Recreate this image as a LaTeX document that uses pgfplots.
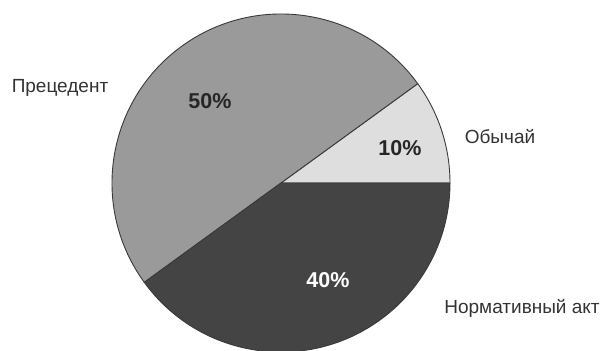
\documentclass[border=0pt]{standalone}
\usepackage{pgfplots}
\pgfplotsset{compat=1.18}
\usepackage{pgfplotstable}
\usepackage{fontspec}
\setmainfont{Liberation Sans}
\definecolor{light}{HTML}{DEDEDE}
\definecolor{mid}{HTML}{9A9A9A}
\definecolor{dark}{HTML}{444444}
\definecolor{edge}{HTML}{3A3A3A}
\definecolor{txt}{HTML}{333333}
\pgfplotstableread{
label value start end
Obychaj 10 0 36
Precedent 50 36 216
Normativ 40 216 360
}\piedata
\begin{document}
\begin{tikzpicture}
\begin{axis}[
  anchor=south west, at={(0,0)},
  scale only axis, width=601pt, height=350pt,
  xmin=0, xmax=601, ymin=0, ymax=350,
  hide axis, clip=true,
]
% pie centre (281,167), radius 169 (1 unit = 1pt)
\fill[light, draw=edge, line width=0.9pt] (axis cs:281,167) -- ++(0:169pt) arc[start angle=0, end angle=36, radius=169pt] -- cycle;
\fill[mid, draw=edge, line width=0.9pt] (axis cs:281,167) -- ++(36:169pt) arc[start angle=36, end angle=216, radius=169pt] -- cycle;
\fill[dark, draw=edge, line width=0.9pt] (axis cs:281,167) -- ++(216:169pt) arc[start angle=216, end angle=360, radius=169pt] -- cycle;
\node[font=\bfseries\fontsize{21.5}{24}\selectfont, text=black!85] at (axis cs:210,249) {50\%};
\node[font=\bfseries\fontsize{21.5}{24}\selectfont, text=black!85] at (axis cs:400,202) {10\%};
\node[font=\bfseries\fontsize{21.5}{24}\selectfont, text=white] at (axis cs:328,70) {40\%};
\node[font=\fontsize{19}{22}\selectfont, text=txt] at (axis cs:60,262) {Прецедент};
\node[font=\fontsize{19}{22}\selectfont, text=txt] at (axis cs:500,213) {Обычай};
\node[font=\fontsize{19}{22}\selectfont, text=txt] at (axis cs:522,42) {Нормативный акт};
\end{axis}
\pgfresetboundingbox
\useasboundingbox (0,0) rectangle (601pt,350pt);
\end{tikzpicture}
\end{document}
